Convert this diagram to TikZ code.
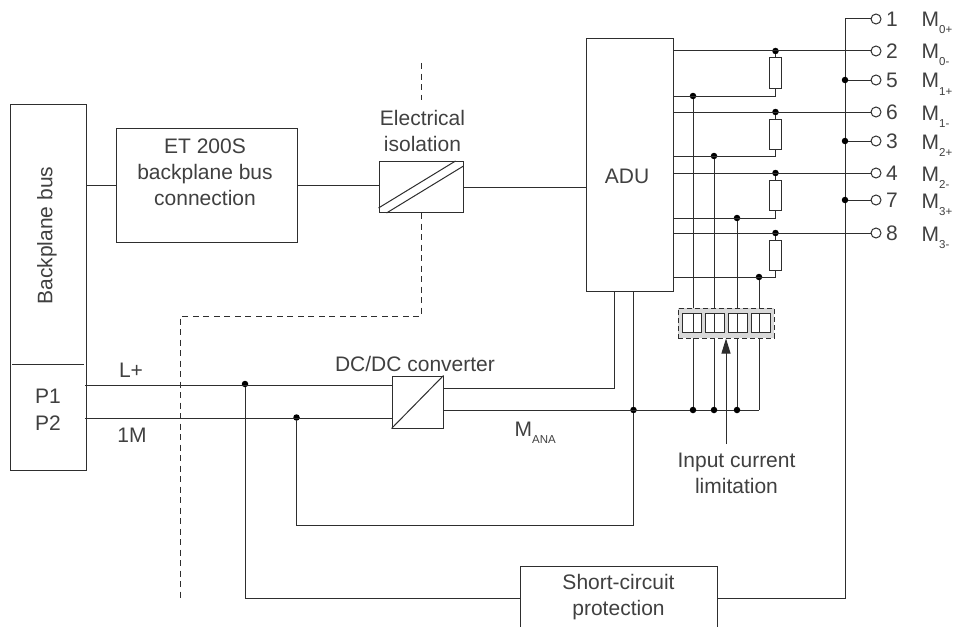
\documentclass[tikz,border=0pt]{standalone}
\usepackage{fontspec}
\setmainfont{Liberation Sans}
\usetikzlibrary{arrows.meta}
\definecolor{inkdark}{HTML}{2E2E2E}
\definecolor{textdark}{HTML}{404040}
\definecolor{blockgray}{HTML}{D9D9D9}
\tikzset{
  wire/.style={draw=inkdark, line width=1pt},
  sepline/.style={draw=inkdark, line width=1pt, dash pattern=on 6pt off 4.5pt},
  box/.style={draw=inkdark, line width=1pt, fill=white, inner sep=0pt, align=center, text=textdark, font=\fontsize{21}{26}\selectfont},
  label/.style={inner sep=0pt, align=center, text=textdark, font=\fontsize{21}{26}\selectfont},
  junction/.style={circle, fill=black, inner sep=0pt, minimum size=6.5pt},
  terminal/.style={circle, draw=inkdark, line width=1pt, fill=white, inner sep=0pt, minimum size=10pt},
  shunt/.style={draw=inkdark, line width=1pt, fill=white, inner sep=0pt, minimum width=11.5pt, minimum height=30pt},
  cell/.style={draw=inkdark, line width=1pt, fill=white, inner sep=0pt, minimum size=19pt},
}
\newcommand{\meas}[2]{M\raisebox{-7pt}{\fontsize{11.5}{11.5}\selectfont #1#2}}
\begin{document}
\begin{tikzpicture}[x=1pt, y=-1pt]
      \clip (0,0) rectangle (955,626);
      \useasboundingbox (0,0) rectangle (955,626);
      \node [box, minimum width=76pt, minimum height=366pt] (bus) at (48,287) {};
      \node [box, minimum width=181.5pt, minimum height=114pt] (et) at (206.75,185) {};
      \node [box, minimum width=84pt, minimum height=51pt] (iso) at (421,187) {};
      \node [box, minimum width=87pt, minimum height=252pt] (adu) at (629.5,165) {};
      \node [box, minimum width=51pt, minimum height=52pt] (dcdc) at (417.5,402) {};
      \node [box, minimum width=197pt, minimum height=63pt] (short) at (618.5,597.5)
        {Short-circuit\\protection};
      \node [label] (etlabel) at (205,172.5) {ET 200S\\backplane bus\\connection};
      \node [label] (adulabel) at (627,176) {ADU};
      \node [label, rotate=90] (buslabel) at (47,235.5) {Backplane bus};
      \node [label] (p1) at (48,396) {P1};
      \node [label] (p2) at (48,423) {P2};
      \node [label] (lplus) at (131,370) {L+};
      \node [label] (onem) at (132,435) {1M};
      \node [label] (isolabel) at (422.5,131) {Electrical\\isolation};
      \node [label] (dclabel) at (415,364) {DC/DC converter};
      \node [label, anchor=base west] (mana) at (514.5,436) {\meas{ANA}{}};
      \node [label] (limit) at (736.5,473) {Input current\\limitation};
      \coordinate (buslineL) at (12,364);
      \coordinate (buslineR) at (84,364);
      \coordinate (lp) at (85,385);
      \coordinate (lm) at (85,418);
      \coordinate (railtop) at (845,19);
      \coordinate (railend) at (845,598);
      \coordinate (isotop) at (421,63);
      \coordinate (isostop) at (421,100);
      \coordinate (isobend) at (421,316);
      \coordinate (sepbend) at (180,316);
      \coordinate (sepend) at (180,598);
      \draw [wire] (buslineL) -- (buslineR);
      \draw [wire] (bus.east |- et.west) -- (et.west);
      \draw [wire] (et.east) -- (iso.west |- et.east);
      \draw [wire] (iso.east) -- (adu.west |- iso.east);
      \draw [sepline] (isotop) -- (isostop);
      \draw [sepline] (iso.south) -- (isobend) -- (sepbend) -- (sepend);
      \draw [wire] (iso.south west) ++(0,-5) -- ([xshift=-8pt]iso.north east);
      \draw [wire] (iso.south west) ++(8,0) -- ([yshift=-5pt]iso.north east);
      \draw [wire] (dcdc.south west) -- (dcdc.north east);
      \node [junction] (jlp) at (245,384) {};
      \node [junction] (jlm) at (296.5,417.5) {};
      \draw [wire] (lp) -- (lp -| dcdc.west);
      \draw [wire] (lm) -- (lm -| dcdc.west);
      \draw [wire] (jlp) |- (short.west |- railend);
      \draw [wire] (short.east |- railend) -- (railend) -- (railtop) -- (876,19);
      \node [junction] (jm) at (633.5,410) {};
      \coordinate (mcorner) at (759,410);
      \draw [wire] (dcdc.east |- jm) -- (mcorner);
      \draw [wire] (jlm) |- (633.5,525) -- (jm) -- (jm |- adu.south);
      \coordinate (lfeed) at (614,388);
      \draw [wire] (dcdc.east |- lfeed) -- (lfeed) -- (lfeed |- adu.south);
      \foreach \num/\y/\sgn/\idx in {1/19/+/0, 2/51/-/0, 5/80/+/1, 6/112/-/1, 3/141/+/2, 4/173/-/2, 7/200/+/3, 8/233/-/3} {
        \node [terminal] (term\num) at (876,\y) {};
        \node [label] (num\num) at (892,\y) {\num};
        \node [label, anchor=base west] (meas\num) at (921.5,\y+8) {\meas{\idx}{\sgn}};
      }
      \foreach \num in {5,3,7} {
        \node [junction] (rail\num) at (railtop |- term\num) {};
        \draw [wire] (rail\num) -- (term\num);
      }
      \foreach \num/\yb/\xc in {2/96/693, 6/156/714, 4/218/737, 8/277/759} {
        \node [junction] (top\num) at (775.5,0 |- term\num) {};
        \node [shunt] (res\num) at ([yshift=-22pt]top\num) {};
        \node [junction] (tap\num) at (\xc,\yb) {};
        \draw [wire] (adu.east |- term\num) -- (term\num);
        \draw [wire] (top\num) -- (res\num);
        \draw [wire] (res\num.south) |- (adu.east |- tap\num);
        \draw [wire] (tap\num) -- (\xc,410);
      }
      \foreach \xc in {693,714,737} {
        \node [junction] (foot\xc) at (\xc,410) {};
      }
      \node [draw=inkdark, line width=1pt, dash pattern=on 5pt off 3pt, fill=blockgray, inner sep=0pt, minimum width=96pt, minimum height=30pt] (block) at (726,323) {};
      \foreach \num/\xm/\xc in {1/691.5/693, 2/714.5/714, 3/737.5/737, 4/760.5/759} {
        \node [cell] (cell\num) at (\xm,322.5) {};
        \draw [wire] (\xc,313) -- (\xc,332);
      }
      \draw [wire, -{Triangle[length=15pt,width=9pt]}] (726,444) -- (block.south);
    \end{tikzpicture}
\end{document}
